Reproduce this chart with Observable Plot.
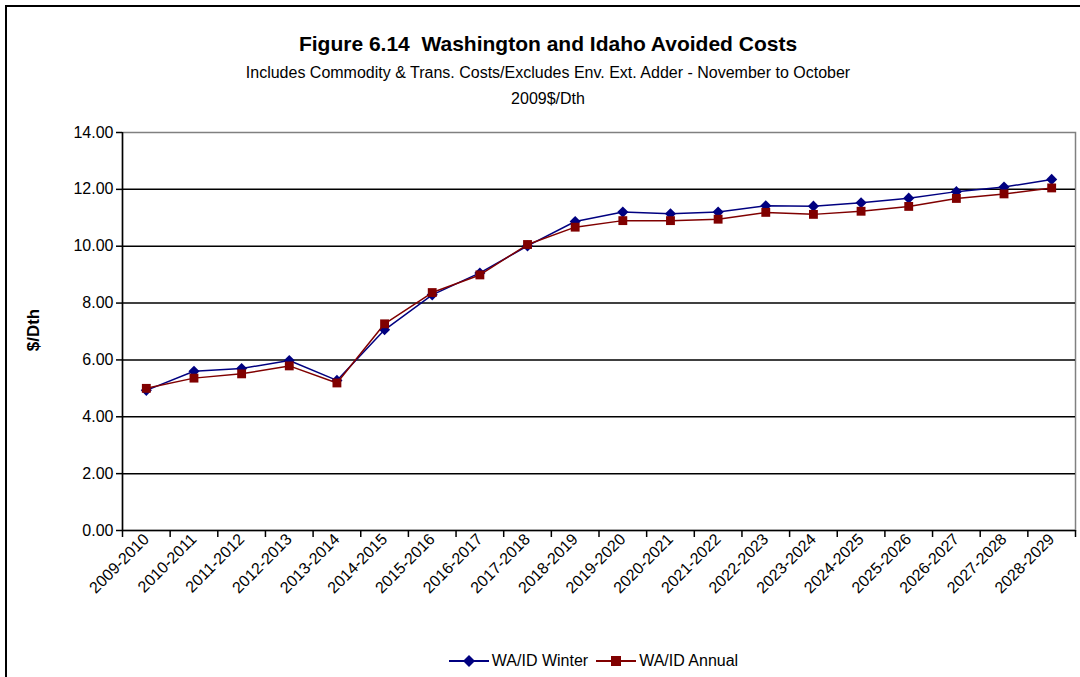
<!DOCTYPE html>
<html>
<head>
<meta charset="utf-8">
<script src="https://cdn.jsdelivr.net/npm/d3@7"></script>
<script src="https://cdn.jsdelivr.net/npm/@observablehq/plot@0.6"></script>
<style>
  body { margin:0; background:#fff; }
  #wrap { position:relative; width:1080px; height:677px; overflow:hidden; font-family:"Liberation Sans Narrow","Arial Narrow","Liberation Sans",Arial,sans-serif; color:#000; }
  #frame { position:absolute; left:5px; top:5px; width:1100px; height:700px; border:2px solid #000; box-sizing:border-box; }
  .t { position:absolute; left:0; width:1096px; text-align:center; }
  #title { top:32px; font-size:21px; font-weight:bold; }
  #sub { top:64px; font-size:16px; }
  #unit { top:90px; font-size:16px; }
  #chart { position:absolute; left:0; top:120px; }
  #legend { position:absolute; top:652px; left:0; width:1080px; display:flex; justify-content:center; padding-left:115px; box-sizing:border-box; font-size:16px; align-items:center; }
  #legend span { margin-right:8px; }
  #ylab { position:absolute; left:34px; top:330px; transform:translate(-50%,-50%) rotate(-90deg); font-weight:bold; font-size:17px; }
</style>
</head>
<body>
<div id="wrap">
  <div id="frame"></div>
  <div class="t" id="title">Figure 6.14&nbsp; Washington and Idaho Avoided Costs</div>
  <div class="t" id="sub">Includes Commodity &amp; Trans. Costs/Excludes Env. Ext. Adder - November to October</div>
  <div class="t" id="unit">2009$/Dth</div>
  <div id="ylab">$/Dth</div>
  <div id="chart"></div>
  <div id="legend"></div>
</div>
<script>
const categories = ["2009-2010","2010-2011","2011-2012","2012-2013","2013-2014","2014-2015","2015-2016","2016-2017","2017-2018","2018-2019","2019-2020","2020-2021","2021-2022","2022-2023","2023-2024","2024-2025","2025-2026","2026-2027","2027-2028","2028-2029"];
const winter = [4.93,5.60,5.70,5.98,5.28,7.06,8.29,9.06,10.01,10.87,11.20,11.14,11.20,11.42,11.41,11.53,11.69,11.92,12.08,12.35];
const annual = [5.00,5.36,5.51,5.79,5.19,7.27,8.37,8.99,10.06,10.67,10.90,10.90,10.95,11.19,11.12,11.23,11.40,11.68,11.84,12.05];
const yTicks = [0,2,4,6,8,10,12,14];
const seriesNames = ["WA/ID Winter","WA/ID Annual"];
const seriesColors = ["#000080","#800000"];

const data = categories.map((c,i)=>({i, cat:c, winter:winter[i], annual:annual[i]}));
const idx = d3.range(categories.length);
const edges = d3.range(categories.length+1).map(i=>i-0.5);
const xDomain = [edges[0], edges[edges.length-1]];
const yDomain = [yTicks[0], yTicks[yTicks.length-1]];

const chart = Plot.plot({
  width:1080, height:500,
  marginTop:12, marginBottom:90, marginLeft:122, marginRight:5,
  x:{type:"linear", domain:xDomain},
  y:{domain:yDomain},
  style:{fontFamily:'"Liberation Sans Narrow","Arial Narrow","Liberation Sans",Arial,sans-serif', fontSize:"16px", color:"#000", background:"transparent"},
  marks:[
    Plot.frame({stroke:"#808080", strokeWidth:1.5}),
    Plot.ruleY(yTicks.slice(0,-1), {stroke:"#000", strokeWidth:1.5}),
    Plot.ruleX([xDomain[0]], {y1:yDomain[0], y2:yDomain[1], stroke:"#000", strokeWidth:1.5}),
    Plot.axisY({ticks:yTicks, tickFormat:d=>d.toFixed(2), tickSize:6, tickPadding:3, label:null, strokeWidth:1.5}),
    Plot.axisX(edges, {tickSize:7, tickFormat:()=>"", label:null, strokeWidth:1.5}),
    Plot.axisX(idx, {tickSize:0, tickRotate:-45, tickPadding:6, tickFormat:i=>categories[i], label:null}),
    Plot.line(data, {x:"i", y:"winter", stroke:seriesColors[0], strokeWidth:1.5}),
    Plot.dot(data, {x:"i", y:"winter", symbol:"diamond2", r:5, fill:seriesColors[0], stroke:"none"}),
    Plot.line(data, {x:"i", y:"annual", stroke:seriesColors[1], strokeWidth:1.5}),
    Plot.dot(data, {x:"i", y:"annual", symbol:"square", r:5, fill:seriesColors[1], stroke:"none"})
  ]
});
document.getElementById("chart").appendChild(chart);

const leg = document.getElementById("legend");
seriesNames.forEach((n,k)=>{
  const shape = k===0
    ? `<path d="M20,1 L26,7 L20,13 L14,7 Z" fill="${seriesColors[k]}"/>`
    : `<rect x="15" y="2" width="10" height="10" fill="${seriesColors[k]}"/>`;
  const s = document.createElement("span");
  s.style.display="inline-flex"; s.style.alignItems="center";
  s.innerHTML = `<svg width="40" height="14" style="margin-right:3px"><line x1="0" x2="40" y1="7" y2="7" stroke="${seriesColors[k]}" stroke-width="2"/>${shape}</svg>${n}`;
  leg.appendChild(s);
});
</script>
</body>
</html>
